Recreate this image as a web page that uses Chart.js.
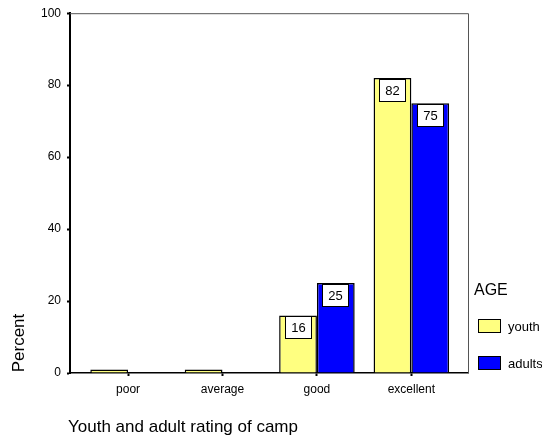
<!DOCTYPE html>
<html lang="en">
<head>
  <meta charset="UTF-8" />
  <title>Youth and adult rating of camp</title>
  <script src="https://cdn.jsdelivr.net/npm/chart.js"></script>
  <style>
    body { margin: 0; background: #ffffff; }
    #wrap { width: 542px; height: 439px; }
  </style>
</head>
<body>
  <div id="wrap"><canvas id="chart" width="542" height="439"></canvas></div>

  <script>
    const categories = ['poor', 'average', 'good', 'excellent'];
    const youthValues = [1, 1, 16, 82];
    const adultValues = [0, 0, 25, 75];
    const yTicks = [0, 20, 40, 60, 80, 100];
    const seriesNames = ['youth', 'adults'];
    const legendTitle = 'AGE';
    const xTitle = 'Youth and adult rating of camp';
    const yTitle = 'Percent';

    const FONT = "'Liberation Sans', Arial, sans-serif";

    // value boxes near the top of each bar
    const valueBoxes = {
      id: 'valueBoxes',
      afterDatasetsDraw(chart) {
        const ctx = chart.ctx;
        ctx.save();
        ctx.font = '13px ' + FONT;
        ctx.textAlign = 'center';
        ctx.textBaseline = 'middle';
        chart.data.datasets.forEach((ds, di) => {
          chart.getDatasetMeta(di).data.forEach((bar, i) => {
            const v = ds.data[i].y;
            if (v < 5) return;
            const w = 27, h = 23;
            const x = Math.round(bar.x - w / 2), y = Math.round(bar.y + 1);
            ctx.fillStyle = '#ffffff';
            ctx.fillRect(x, y, w, h);
            ctx.strokeStyle = '#000000';
            ctx.lineWidth = 1;
            ctx.strokeRect(x + 0.5, y + 0.5, w - 1, h - 1);
            ctx.fillStyle = '#000000';
            ctx.fillText(String(v), x + w / 2, y + h / 2 + 1);
          });
        });
        ctx.restore();
      }
    };

    // frame, titles and legend
    const decorations = {
      id: 'decorations',
      afterDraw(chart) {
        const ctx = chart.ctx;
        const a = chart.chartArea;
        ctx.save();
        ctx.strokeStyle = '#555555';
        ctx.lineWidth = 1;
        ctx.beginPath();
        ctx.moveTo(a.left, a.top + 0.5);
        ctx.lineTo(a.right + 0.5, a.top + 0.5);
        ctx.lineTo(a.right + 0.5, a.bottom);
        ctx.stroke();

        ctx.fillStyle = '#000000';
        ctx.font = '17px ' + FONT;
        ctx.textAlign = 'left';
        ctx.textBaseline = 'middle';
        ctx.fillText(xTitle, 68, 427);

        ctx.save();
        ctx.translate(19, 343);
        ctx.rotate(-Math.PI / 2);
        ctx.textAlign = 'center';
        ctx.fillText(yTitle, 0, 0);
        ctx.restore();

        ctx.font = '16px ' + FONT;
        ctx.fillText(legendTitle, 474, 291);
        ctx.font = '13px ' + FONT;
        chart.data.datasets.forEach((ds, i) => {
          const y = 319 + i * 37;
          ctx.fillStyle = ds.backgroundColor;
          ctx.fillRect(478, y, 23, 14);
          ctx.strokeStyle = '#000000';
          ctx.strokeRect(478.5, y + 0.5, 22, 13);
          ctx.fillStyle = '#000000';
          ctx.fillText(seriesNames[i], 508, y + 8);
        });
        ctx.restore();
      }
    };

    new Chart(document.getElementById('chart'), {
      type: 'bar',
      data: {
        datasets: [
          {
            label: seriesNames[0],
            data: youthValues.map((v, i) => ({ x: i, y: v })),
            backgroundColor: '#ffff80',
            borderColor: '#000000',
            borderWidth: 1.5
          },
          {
            label: seriesNames[1],
            data: adultValues.map((v, i) => ({ x: i, y: v })),
            backgroundColor: '#0000ff',
            borderColor: '#000000',
            borderWidth: 1.5
          }
        ]
      },
      plugins: [valueBoxes, decorations],
      options: {
        responsive: false,
        animation: false,
        layout: { padding: { top: 12, right: 74, left: 0, bottom: 0 } },
        datasets: { bar: { categoryPercentage: 0.8, barPercentage: 1 } },
        plugins: {
          legend: { display: false },
          tooltip: { enabled: false }
        },
        scales: {
          x: {
            type: 'linear',
            offset: false,
            min: -0.615,
            max: 3.6,
            afterBuildTicks: s => { s.ticks = categories.map((_, i) => ({ value: i })); },
            afterFit: s => { s.height = 66; },
            grid: { display: true, offset: false, drawOnChartArea: false, color: '#000000', tickLength: 3, tickWidth: 2 },
            border: { color: '#000000', width: 1.5 },
            ticks: {
              color: '#000000',
              padding: 6,
              font: { family: FONT, size: 12 },
              callback: v => categories[v] || ''
            }
          },
          y: {
            min: 0,
            max: 100,
            afterBuildTicks: s => { s.ticks = yTicks.map(v => ({ value: v })); },
            afterFit: s => { s.width = 70; },
            grid: { display: true, drawOnChartArea: false, color: '#000000', tickLength: 3, tickWidth: 2 },
            border: { color: '#000000', width: 2 },
            ticks: {
              color: '#000000',
              padding: 6,
              font: { family: FONT, size: 12 }
            }
          }
        }
      }
    });
  </script>
</body>
</html>
